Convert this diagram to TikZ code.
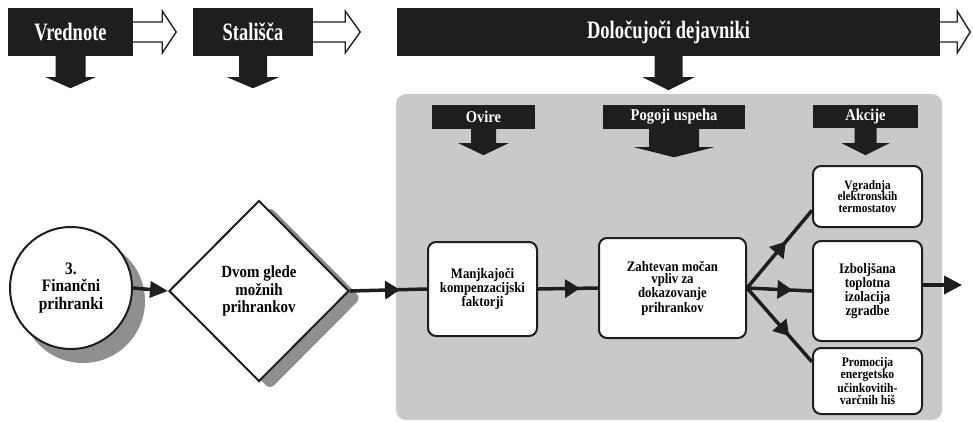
\documentclass[tikz,border=0pt]{standalone}
\usepackage{fontspec}
\setmainfont{Liberation Serif}[FakeStretch=0.88]
\newfontfamily\condfont{Liberation Serif}[FakeStretch=0.74]
\usetikzlibrary{shapes.geometric, arrows.meta, decorations.markings}

\definecolor{barblack}{HTML}{1E1E1E}
\definecolor{panelgray}{HTML}{C8C9CA}
\definecolor{shadowgray}{HTML}{8E8F91}

\tikzset{
  headbar/.style={fill=barblack, text=white, inner sep=0pt, minimum height=48pt,
    font=\condfont\bfseries\fontsize{25}{25}\selectfont},
  subbar/.style={fill=barblack, text=white, inner sep=0pt,
    font=\bfseries\fontsize{16.5}{16.5}\selectfont},
  hollowarrow/.style={draw=barblack, line width=1.4pt, fill=white, line join=miter},
  stepbox/.style={draw=barblack, line width=2pt, rounded corners=8pt, fill=white,
    align=center, inner sep=1pt},
  link/.style={draw=barblack, line width=3.5pt},
  midarrow/.style={postaction={decorate}, decoration={markings,
    mark=at position #1 with {\arrow{Triangle[length=15pt,width=18pt]}}}},
}

% a black block arrow hanging below a bar
\newcommand{\dropblock}[5]{%
  \fill[barblack] (#1) ++(-#2,0) -- ++(0,#3) -- ++({#2-#4},0) -- ++(#4,#5)
    -- ++(#4,-#5) -- ++({#2-#4},0) -- ++(0,-#3) -- cycle;}

\begin{document}
\begin{tikzpicture}[x=1pt, y=-1pt]
    \useasboundingbox (0,0) rectangle (973,421);

    % Draw the gray panel
    \fill[panelgray, rounded corners=10pt] (396,94) rectangle (942,420);

    % Draw the top bars
    \node[headbar, minimum width=125pt] (vred) at (70.5,32) {Vrednote};
    \node[headbar, minimum width=120pt] (stal) at (253,32) {Stališča};
    \node[headbar, minimum width=543pt] (dolo) at (668.5,32) {Določujoči dejavniki};

    % Hollow arrows to the right of the bars
    \draw[hollowarrow] (vred.east) ++(0,-10) -- ++(29,0) -- ++(0,-11) -- ++(14,21)
      -- ++(-14,21) -- ++(0,-11) -- ++(-29,0);
    \draw[hollowarrow] (stal.east) ++(0,-10) -- ++(32,0) -- ++(0,-11) -- ++(15,21)
      -- ++(-15,21) -- ++(0,-11) -- ++(-32,0);
    \draw[hollowarrow] (dolo.east) ++(0,-10) -- ++(17,0) -- ++(0,-11) -- ++(13,21)
      -- ++(-13,21) -- ++(0,-11) -- ++(-17,0);

    % Block arrows pointing down
    \dropblock{vred.south}{15}{21}{25}{11}
    \dropblock{stal.south}{14}{21}{26}{11}
    \dropblock{dolo.south}{14}{21}{26}{13}

    % Headers inside the panel
    \node[subbar, minimum width=103pt, minimum height=24pt] (ovire) at (483.5,117) {Ovire};
    \node[subbar, minimum width=142pt, minimum height=24pt] (pogoji) at (674,117) {Pogoji uspeha};
    \node[subbar, minimum width=105pt, minimum height=23pt] (akcije) at (865.5,116.5) {Akcije};
    \dropblock{ovire.south}{12.5}{14}{25}{12}
    \dropblock{pogoji.south}{25}{18}{40}{10}
    \dropblock{akcije.south}{11}{15}{24}{12}

    % Circle and diamond with their shadows
    \node[circle, fill=shadowgray, minimum size=124pt] (finshadow) at (83,301) {};
    \node[circle, draw=barblack, line width=2pt, fill=white, minimum size=122pt, align=center,
      font=\bfseries\fontsize{17.5}{17.5}\selectfont] (fin) at (71,288) {3.\\Finančni\\prihranki};
    \node[diamond, fill=shadowgray, rounded corners=6pt, minimum width=182pt,
      minimum height=183pt] (dvomshadow) at (270,298) {};
    \node[diamond, draw=barblack, line width=2pt, fill=white, inner sep=0pt, minimum width=180pt,
      minimum height=181pt, align=center, font=\bfseries\fontsize{17}{17.5}\selectfont]
      (dvom) at (259,291) {Dvom glede\\možnih\\prihrankov};

    % Boxes in the panel
    \node[stepbox, minimum width=109pt, minimum height=94pt,
      font=\bfseries\fontsize{14.5}{12.8}\selectfont] (manj) at (482.5,289)
      {Manjkajoči\\kompenzacijski\\faktorji};
    \node[stepbox, minimum width=147pt, minimum height=100pt,
      font=\bfseries\fontsize{14.5}{12.8}\selectfont] (zaht) at (672.5,288)
      {Zahtevan močan\\vpliv za\\dokazovanje\\prihrankov};
    \node[stepbox, minimum width=109pt, minimum height=61pt,
      font=\bfseries\fontsize{12.8}{11.8}\selectfont] (vgr) at (867.5,196.5)
      {Vgradnja\\elektronskih\\termostatov};
    \node[stepbox, minimum width=109pt, minimum height=100pt,
      font=\bfseries\fontsize{14.5}{12.8}\selectfont] (izb) at (867.5,291)
      {Izboljšana\\toplotna\\izolacija\\zgradbe};
    \node[stepbox, minimum width=109pt, minimum height=66pt,
      font=\bfseries\fontsize{13.2}{12}\selectfont] (prom) at (867.5,381)
      {Promocija\\energetsko\\učinkovitih-\\varčnih hiš};
    \coordinate (out) at (962,285);

    % Connectors
    \draw[link, -{Triangle[length=18pt,width=16pt]}] (fin.east) -- (dvom.west);
    \draw[link, midarrow=0.65] (dvom.east) -- (manj.west);
    \draw[link, midarrow=0.7] (manj.east) -- (zaht.west);
    \draw[link, midarrow=0.6] (zaht.east) -- (vgr.194);
    \draw[link, midarrow=0.7] (zaht.east) -- (izb.west);
    \draw[link, midarrow=0.65] (zaht.east) -- (prom.161);
    \draw[link, -{Triangle[length=18pt,width=18pt]}] (izb.east |- out) -- (out);
\end{tikzpicture}
\end{document}
